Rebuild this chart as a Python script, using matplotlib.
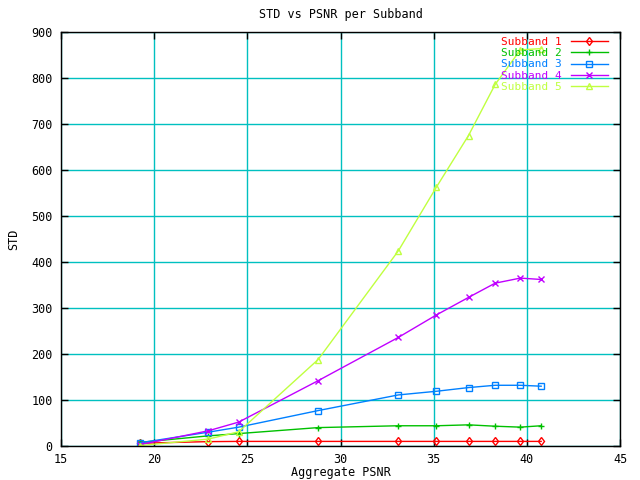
import matplotlib
matplotlib.use("Agg")
import matplotlib.pyplot as plt

psnr = [19.25, 22.9, 24.54, 28.8, 33.1, 35.15, 36.87, 38.3, 39.65, 40.77]
subband1 = [6, 9.5, 10, 10, 10, 10, 10, 10, 10, 10]
subband2 = [8, 22, 27, 40, 44, 44, 46, 43, 41, 44]
subband3 = [7, 30, 41, 77, 111, 119, 127, 132, 132, 130]
subband4 = [3, 33, 52, 142, 236, 285, 323, 354, 365, 362]
subband5 = [1, 15, 31, 188, 424, 563, 675, 786, 861, 864]
labels = ["Subband 1", "Subband 2", "Subband 3", "Subband 4", "Subband 5"]
colors = ["#ff0000", "#00c000", "#0080ff", "#c000ff", "#c0ff40"]
markers = ["d", "+", "s", "x", "^"]
xticks = [15, 20, 25, 30, 35, 40, 45]
yticks = [0, 100, 200, 300, 400, 500, 600, 700, 800, 900]

plt.rcParams['font.family'] = ['DejaVu Sans Mono']
fs = 8.5

fig = plt.figure(figsize=(6.4, 4.8), dpi=100)
ax = fig.add_axes([61/640, 1-446/480, (620-61)/640, (446-32)/480])

series = [subband1, subband2, subband3, subband4, subband5]
for ys, lab, c, m in zip(series, labels, colors, markers):
    ax.plot(psnr, ys, color=c, marker=m, lw=1.0, ms=4.5, mew=1.0,
            mfc='none' if m in ('s', 'd', '^') else c, label=lab, zorder=3)

ax.set_xlim(15, 45)
ax.set_ylim(0, 900)
ax.set_xticks(xticks)
ax.set_yticks(yticks)
ax.tick_params(direction='in', length=5, top=True, right=True, labelsize=fs, width=1, pad=6)
ax.tick_params(axis='x', pad=5)
ax.grid(True, color='#00c0c0', lw=1.0, zorder=1)
for s in ax.spines.values():
    s.set_linewidth(1.0)
    s.set_zorder(4)

ax.set_title("STD vs PSNR per Subband", fontsize=fs, pad=10)
ax.set_xlabel("Aggregate PSNR", fontsize=fs, labelpad=0)
ax.set_ylabel("STD", fontsize=fs, labelpad=8)

leg = ax.legend(loc='upper right', bbox_to_anchor=(1 - 10/559, 1 - 3/414),
                frameon=False, markerfirst=False,
                labelcolor='linecolor', fontsize=8, handlelength=3.3,
                labelspacing=0.1, borderaxespad=0, borderpad=0.2,
                handletextpad=0.8)

fig.savefig("out.png", dpi=100)
